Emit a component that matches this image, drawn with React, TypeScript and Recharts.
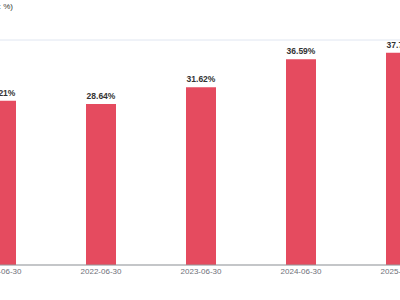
import React from 'react';
import { BarChart, Bar, XAxis, YAxis, CartesianGrid, LabelList } from 'recharts';

const dates = ['2021-06-30', '2022-06-30', '2023-06-30', '2024-06-30', '2025-06-30'];
const ratios = [29.21, 28.64, 31.62, 36.59, 37.75];
const yTicks = [0, 10, 20, 30, 40];

const data = dates.map((date, i) => ({ date, ratio: ratios[i] }));

const font = '"Liberation Sans", Arial, sans-serif';

export default function App() {
  return (
    <div
      style={{
        position: 'fixed',
        top: 0,
        left: 0,
        width: 400,
        height: 300,
        overflow: 'hidden',
        background: '#fff',
        fontFamily: font,
      }}
    >
      {/* y axis name, mostly outside the visible window */}
      <div
        style={{
          position: 'absolute',
          right: 387,
          top: 2,
          fontSize: 8,
          color: '#333',
          whiteSpace: 'nowrap',
        }}
      >
        (Unit: %)
      </div>
      <div style={{ position: 'absolute', left: -89.5, top: 0 }}>
        <BarChart
          width={540}
          height={300}
          data={data}
          margin={{ top: 40, right: 0, bottom: 15, left: 0 }}
        >
          <CartesianGrid vertical={false} stroke="#E0E6F1" />
          <XAxis
            dataKey="date"
            height={20}
            tickLine={false}
            tickSize={3}
            tickMargin={0}
            axisLine={{ stroke: '#999' }}
            tick={{ fill: '#6E7079', fontSize: 8, fontFamily: font }}
            interval={0}
          />
          <YAxis
            width={40}
            domain={[0, 40]}
            ticks={yTicks}
            tick={false}
            axisLine={false}
            tickLine={false}
          />
          <Bar dataKey="ratio" fill="#e54b5f" barSize={30} isAnimationActive={false}>
            <LabelList
              dataKey="ratio"
              position="top"
              offset={5}
              formatter={(v: number) => `${v.toFixed(2)}%`}
              style={{ fill: '#333', fontSize: 8.5, fontWeight: 'bold', fontFamily: font }}
            />
          </Bar>
        </BarChart>
      </div>
    </div>
  );
}
